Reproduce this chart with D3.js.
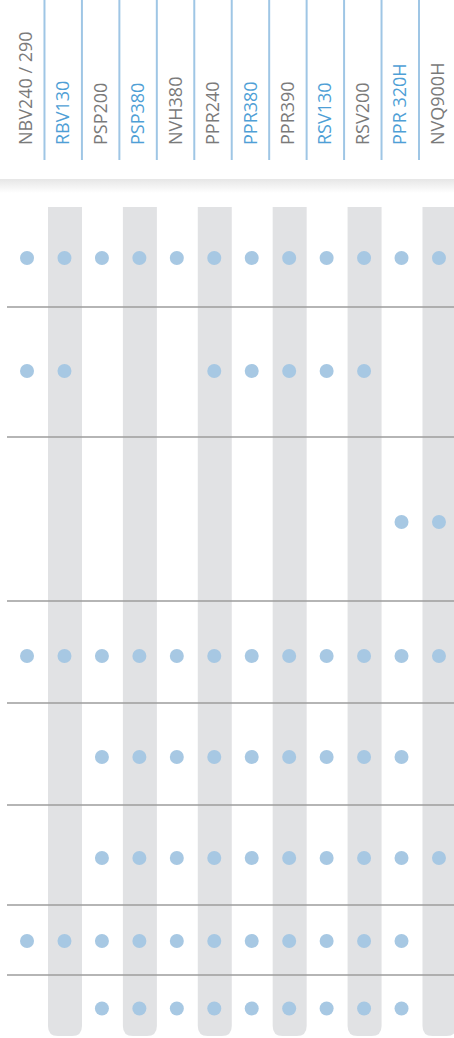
<!DOCTYPE html>
<html><head><meta charset="utf-8">
<script src="https://cdn.jsdelivr.net/npm/d3@7"></script>
<style>html,body{margin:0;padding:0;background:#fff;}svg{display:block;}</style>
</head><body>
<svg id="c" width="454" height="1038"></svg>
<script>
const products = ["NBV240 / 290","RBV130","PSP200","PSP380","NVH380","PPR240","PPR380","PPR390","RSV130","RSV200","PPR 320H","NVQ900H"];
const highlighted = ["RBV130","PSP380","PPR380","RSV130","PPR 320H"];
const shaded = ["RBV130","PSP380","PPR240","PPR390","RSV200","NVQ900H"];
const features = ["F1","F2","F3","F4","F5","F6","F7","F8"];
const f1 = ["NBV240 / 290","RBV130","PSP200","PSP380","NVH380","PPR240","PPR380","PPR390","RSV130","RSV200","PPR 320H","NVQ900H"];
const f2 = ["NBV240 / 290","RBV130","PPR240","PPR380","PPR390","RSV130","RSV200"];
const f3 = ["PPR 320H","NVQ900H"];
const f4 = ["NBV240 / 290","RBV130","PSP200","PSP380","NVH380","PPR240","PPR380","PPR390","RSV130","RSV200","PPR 320H","NVQ900H"];
const f5 = ["PSP200","PSP380","NVH380","PPR240","PPR380","PPR390","RSV130","RSV200","PPR 320H"];
const f6 = ["PSP200","PSP380","NVH380","PPR240","PPR380","PPR390","RSV130","RSV200","PPR 320H","NVQ900H"];
const f7 = ["NBV240 / 290","RBV130","PSP200","PSP380","NVH380","PPR240","PPR380","PPR390","RSV130","RSV200","PPR 320H"];
const f8 = ["PSP200","PSP380","NVH380","PPR240","PPR380","PPR390","RSV130","RSV200","PPR 320H"];
const membership = [f1,f2,f3,f4,f5,f6,f7,f8];

// layout
const rowHeights = [100,130,164,102,102,100,70,61];
const dotOffsets = [1,-1,3,4,3,3,1,3];
const tableTop = 207, tableBottom = 1036;

const svg = d3.select("#c");
const x = d3.scaleBand().domain(products).range([8.3, 457.7]).paddingInner(0).paddingOuter(0);
const bw = x.bandwidth();
const cx = p => x(p) + bw/2;

const rowTops = [];
let acc = tableTop;
rowHeights.forEach(h => { rowTops.push(acc); acc += h; });
const y = d3.scaleOrdinal().domain(features).range(rowTops.map((t,i)=> t + rowHeights[i]/2 + dotOffsets[i]));

// gradient for header shadow
const defs = svg.append("defs");
const g = defs.append("linearGradient").attr("id","sh").attr("x1",0).attr("x2",0).attr("y1",0).attr("y2",1);
g.append("stop").attr("offset","0%").attr("stop-color","#e6e6e6");
g.append("stop").attr("offset","100%").attr("stop-color","#ffffff");
svg.append("rect").attr("x",0).attr("y",179).attr("width",454).attr("height",14).attr("fill","url(#sh)");

// shaded bands
const bandW = 34, r = 10;
svg.append("g").selectAll("path").data(shaded).join("path")
  .attr("d", p => {
    const x0 = cx(p) - bandW/2 + 0.5, x1 = x0 + bandW;
    return `M${x0},${tableTop} H${x1} V${tableBottom - r} Q${x1},${tableBottom} ${x1 - r},${tableBottom} H${x0 + r} Q${x0},${tableBottom} ${x0},${tableBottom - r} Z`;
  })
  .attr("fill","#e1e2e4");

// horizontal separators
svg.append("g").selectAll("line").data(rowTops.slice(1)).join("line")
  .attr("x1",7).attr("x2",454).attr("y1",d=>d).attr("y2",d=>d)
  .attr("stroke","#9d9d9d").attr("stroke-width",1.3);

// header vertical lines
svg.append("g").selectAll("line").data(products.slice(1)).join("line")
  .attr("x1",p=>cx(p)-20).attr("x2",p=>cx(p)-20).attr("y1",0).attr("y2",160)
  .attr("stroke","#9fc6e5").attr("stroke-width",2);

// header labels
svg.append("g").selectAll("text").data(products).join("text")
  .attr("transform", p => `translate(${cx(p)-1.5},145) rotate(-90)`)
  .attr("text-anchor","start")
  .attr("dy","0.35em")
  .attr("font-family","'Open Sans', sans-serif")
  .attr("font-size",18)
  .attr("font-weight",400)
  .attr("fill", p => highlighted.includes(p) ? "#4f9fd6" : "#7a7a7a")
  .text(p => p);

// dots
const dots = [];
features.forEach((f,i) => membership[i].forEach(p => dots.push({f, p})));
svg.append("g").selectAll("circle").data(dots).join("circle")
  .attr("cx", d => cx(d.p)).attr("cy", d => y(d.f)).attr("r",7)
  .attr("fill","#a7c8e3");
</script>
</body></html>
